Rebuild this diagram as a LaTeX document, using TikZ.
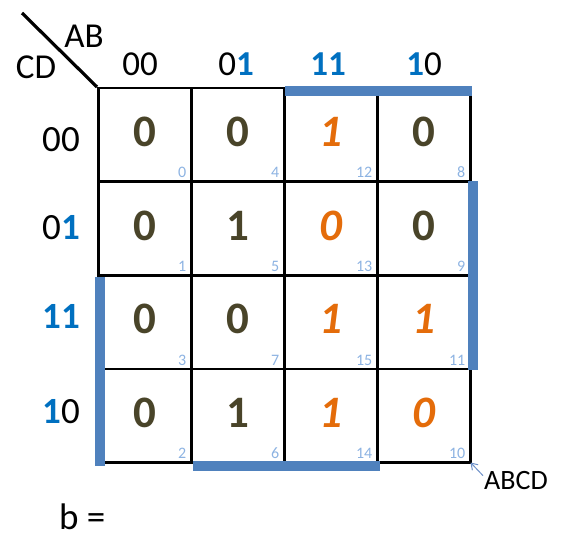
\documentclass[tikz,border=0pt]{standalone}
\usepackage{fontspec}
\setmainfont{Carlito}
\usetikzlibrary{arrows.meta}
\definecolor{val}{RGB}{73,68,41}
\definecolor{org}{RGB}{228,108,10}
\definecolor{lbl}{RGB}{0,112,192}
\definecolor{idx}{RGB}{141,179,226}
\definecolor{bar}{RGB}{79,129,189}
\definecolor{arr}{RGB}{110,145,200}
\newcommand{\bl}[1]{\textcolor{lbl}{\bfseries #1}}
\begin{document}
\begin{tikzpicture}[x=1pt,y=-1pt,
  cell/.style={draw=black,line width=2.5pt,minimum width=93pt,minimum height=93.5pt,inner sep=0pt,anchor=north west},
  vn/.style={font=\fontsize{45}{45}\selectfont\bfseries,text=val,inner sep=0pt},
  vo/.style={font=\fontsize{45}{45}\selectfont\bfseries\itshape,text=org,inner sep=0pt},
  ix/.style={font=\fontsize{16}{16}\selectfont,text=idx,anchor=base east,inner sep=0pt},
  hd/.style={font=\fontsize{35}{35}\selectfont,anchor=base,inner sep=0pt},
  rl/.style={font=\fontsize{37}{37}\selectfont,anchor=base,inner sep=0pt},
  gbar/.style={draw=bar,line width=10pt,line cap=butt}]
\useasboundingbox (0,0) rectangle (564,537);
% cells
\foreach \r/\c/\n/\v/\s in {0/0/0/0/vn,0/1/4/0/vn,0/2/12/1/vo,0/3/8/0/vn,
                             1/0/1/0/vn,1/1/5/1/vn,1/2/13/0/vo,1/3/9/0/vn,
                             2/0/3/0/vn,2/1/7/0/vn,2/2/15/1/vo,2/3/11/1/vo,
                             3/0/2/0/vn,3/1/6/1/vn,3/2/14/1/vo,3/3/10/0/vo}{
  \node[cell] (c\n) at ({97+93*\c},{87+93.5*\r}) {};
  \node[\s] (v\n) at ([yshift=3pt]c\n.center) {\v};
  \node[ix] (i\n) at ([xshift=-6pt,yshift=5pt]c\n.south east) {\n};
}
% corner diagonal and titles
\coordinate (dstart) at (22,13);
\draw[line width=3.2pt] (dstart) -- (c0.north west);
\node[font=\fontsize{35}{35}\selectfont,inner sep=0pt] (ab) at (84,36) {AB};
\node[font=\fontsize{35}{35}\selectfont,inner sep=0pt] (cd) at (36,67) {CD};
% column headers
\node[hd] (h0) at (140,76) {00};
\node[hd] (h1) at (236,76) {0\bl{1}};
\node[hd] (h2) at (328,76) {\bl{11}};
\node[hd] (h3) at (424,76) {\bl{1}0};
% row headers
\node[rl] (r0) at (61,152) {00};
\node[rl] (r1) at (61,240) {0\bl{1}};
\node[rl] (r2) at (61,328) {\bl{11}};
\node[rl] (r3) at (61,423) {\bl{1}0};
% groups
\draw[gbar] ([xshift=2pt,yshift=-4pt]c12.north west) -- ([yshift=-4pt]c8.north east);
\draw[gbar] ([xshift=1pt,yshift=-1pt]c9.north east) -- ([xshift=1pt]c11.south east);
\draw[gbar] ([xshift=3pt,yshift=-3pt]c3.north west) -- ([xshift=3pt,yshift=-2pt]c2.south west);
\draw[gbar] ([xshift=3pt,yshift=-2.5pt]c6.south west) -- ([xshift=1pt,yshift=-2.5pt]c14.south east);
% ABCD pointer
\node[font=\fontsize{28}{28}\selectfont,inner sep=0pt,anchor=base west] (abcd) at (484,489) {ABCD};
\draw[arr,line width=1pt,-{Straight Barb[length=6pt,width=8pt]}] ([xshift=-1pt,yshift=-5pt]abcd.north west) -- ([xshift=-1pt,yshift=1pt]c10.south east);
% b =
\node[font=\fontsize{37}{37}\selectfont,inner sep=0pt,anchor=base west] (beq) at (59,529) {b =};
\end{tikzpicture}
\end{document}
